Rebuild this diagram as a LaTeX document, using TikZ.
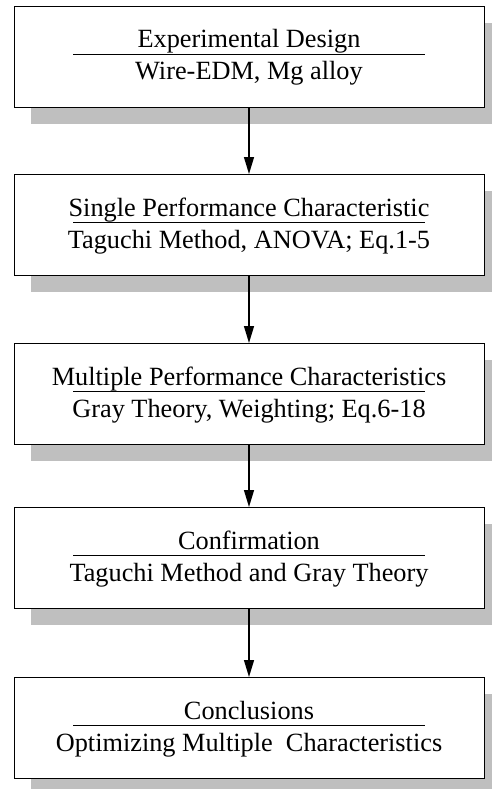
\documentclass[tikz,border=0pt]{standalone}
\usepackage{fontspec}
\setmainfont{Liberation Serif}
\usetikzlibrary{arrows.meta}

\tikzset{
  stagebox/.style={draw=black, line width=1.3pt, fill=white},
  stageshadow/.style={fill=black!25, draw=none},
  rule/.style={draw=black, line width=0.9pt},
  stagetext/.style={anchor=base, inner sep=0pt,
    font=\fontsize{26.3}{30}\selectfont},
  flow/.style={draw=black, line width=1.3pt,
    -{Triangle[length=17pt, width=10pt]}}
}

\begin{document}
\begin{tikzpicture}[x=1pt, y=-1pt]
\useasboundingbox (0,0) rectangle (492,789);

% stage boxes: top edge, title, detail line
\foreach \n/\t/\head/\body in {
  1/6/{Experimental Design}/{Wire-EDM, Mg alloy},
  2/174/{Single Performance Characteristic}/{Taguchi Method, ANOVA; Eq.1-5},
  3/343/{Multiple Performance Characteristics}/{Gray Theory, Weighting; Eq.6-18},
  4/507/{Confirmation}/{Taguchi Method and Gray Theory},
  5/677/{Conclusions}/{Optimizing Multiple\hspace{0.5em}Characteristics}}{
  \fill[stageshadow] (31,\t+17) rectangle (492,\t+118);
  \node[stagebox, minimum width=470pt, minimum height=101pt,
        inner sep=0pt, anchor=north west] (s\n) at (14,\t) {};
  \node[stagetext] (h\n) at (249,\t+42) {\head};
  \draw[rule] (73,\t+48.5) -- (425,\t+48.5);
  \node[stagetext] (b\n) at (249,\t+74) {\body};
}

% connectors between stages
\foreach \a/\b in {1/2, 2/3, 3/4, 4/5}{
  \draw[flow] (s\a.south -| 249,0) -- (s\b.north -| 249,0);
}
\end{tikzpicture}
\end{document}
